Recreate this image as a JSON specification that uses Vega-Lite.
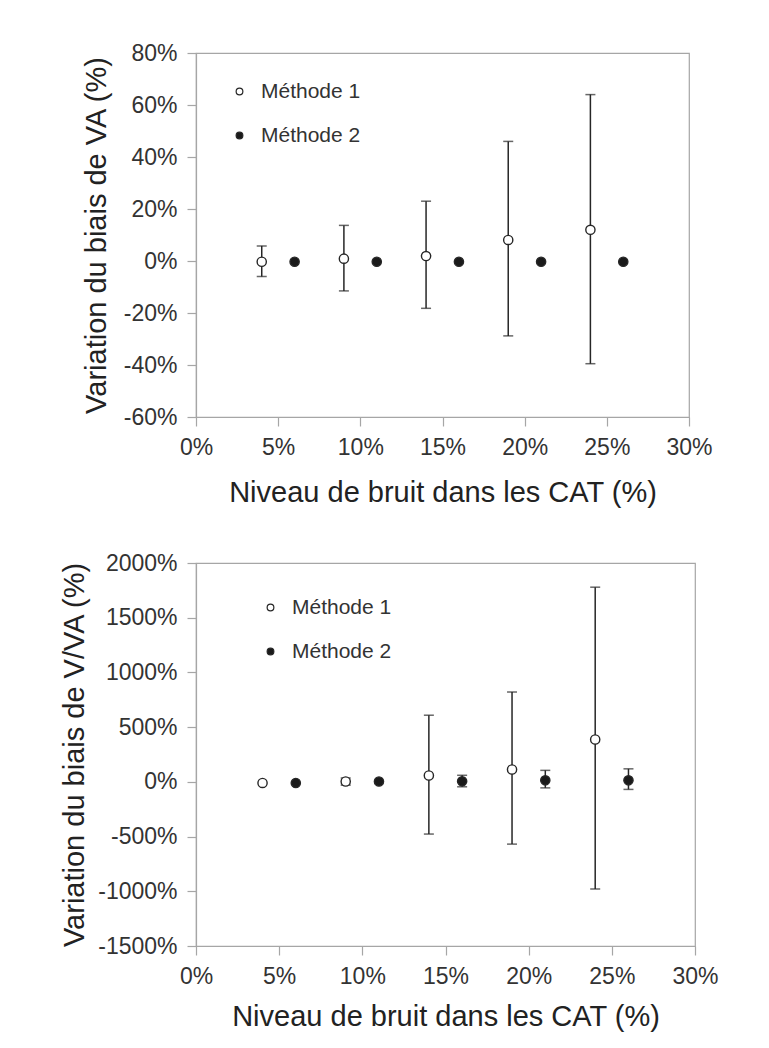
{
  "$schema": "https://vega.github.io/schema/vega-lite/v6.json",
  "background": "white",
  "padding": {"left": 60, "top": 41, "right": 5, "bottom": 0},
  "spacing": 146,
  "bounds": "flush",
  "config": {
    "font": "Liberation Sans",
    "view": {"stroke": "#a6a6a6", "strokeWidth": 1.2},
    "axis": {
      "grid": false,
      "domainColor": "#a6a6a6",
      "domainWidth": 1.2,
      "tickColor": "#a6a6a6",
      "tickWidth": 1.2,
      "tickSize": 9,
      "labelFont": "Liberation Sans",
      "labelFontSize": 23,
      "labelColor": "#333333",
      "labelPadding": 10,
      "labelFlush": false,
      "titleFont": "Liberation Sans",
      "titleFontSize": 29,
      "titleFontWeight": "normal",
      "titleColor": "#222222"
    },
    "legend": {
      "orient": "none",
      "title": null,
      "padding": 0,
      "symbolType": "circle",
      "symbolSize": 45,
      "symbolStrokeColor": "#262626",
      "symbolStrokeWidth": 1.2,
      "labelFont": "Liberation Sans",
      "labelFontSize": 21,
      "labelColor": "#333333",
      "rowPadding": 22,
      "labelOffset": 11
    }
  },
  "resolve": {
    "scale": {"x": "independent", "y": "independent", "fill": "independent"},
    "legend": {"fill": "independent"}
  },
  "datasets": {
    "va": [
      {"methode": "Méthode 1", "x": 0.04, "y": -0.003, "lo": -0.06, "hi": 0.058},
      {"methode": "Méthode 1", "x": 0.09, "y": 0.009, "lo": -0.115, "hi": 0.137},
      {"methode": "Méthode 1", "x": 0.14, "y": 0.019, "lo": -0.182, "hi": 0.23},
      {"methode": "Méthode 1", "x": 0.19, "y": 0.081, "lo": -0.288, "hi": 0.46},
      {"methode": "Méthode 1", "x": 0.24, "y": 0.12, "lo": -0.395, "hi": 0.64},
      {"methode": "Méthode 2", "x": 0.06, "y": -0.003, "lo": null, "hi": null},
      {"methode": "Méthode 2", "x": 0.11, "y": -0.003, "lo": null, "hi": null},
      {"methode": "Méthode 2", "x": 0.16, "y": -0.003, "lo": null, "hi": null},
      {"methode": "Méthode 2", "x": 0.21, "y": -0.003, "lo": null, "hi": null},
      {"methode": "Méthode 2", "x": 0.26, "y": -0.003, "lo": null, "hi": null}
    ],
    "vva": [
      {"methode": "Méthode 1", "x": 0.04, "y": -0.1, "lo": null, "hi": null},
      {"methode": "Méthode 1", "x": 0.09, "y": 0.03, "lo": -0.3, "hi": 0.35},
      {"methode": "Méthode 1", "x": 0.14, "y": 0.58, "lo": -4.77, "hi": 6.09},
      {"methode": "Méthode 1", "x": 0.19, "y": 1.13, "lo": -5.69, "hi": 8.21},
      {"methode": "Méthode 1", "x": 0.24, "y": 3.87, "lo": -9.79, "hi": 17.79},
      {"methode": "Méthode 2", "x": 0.06, "y": -0.1, "lo": null, "hi": null},
      {"methode": "Méthode 2", "x": 0.11, "y": 0.03, "lo": null, "hi": null},
      {"methode": "Méthode 2", "x": 0.16, "y": 0.05, "lo": -0.45, "hi": 0.6},
      {"methode": "Méthode 2", "x": 0.21, "y": 0.14, "lo": -0.55, "hi": 1.05},
      {"methode": "Méthode 2", "x": 0.26, "y": 0.14, "lo": -0.69, "hi": 1.19}
    ]
  },
  "vconcat": [
    {
      "width": 493,
      "height": 364,
      "data": {"name": "va"},
      "layer": [
        {
          "transform": [{"filter": "isValid(datum.lo)"}],
          "mark": {"type": "rule", "color": "#262626", "strokeWidth": 1.5},
          "encoding": {
            "x": {"field": "x", "type": "quantitative", "scale": {"domain": [0, 0.3], "nice": false},
              "axis": {"values": [0, 0.05, 0.1, 0.15, 0.2, 0.25, 0.3], "labelExpr": "format(datum.value*100, '.0f') + '%'", "title": "Niveau de bruit dans les CAT (%)", "titlePadding": 19}},
            "y": {"field": "lo", "type": "quantitative", "scale": {"domain": [-0.6, 0.8], "nice": false, "zero": false},
              "axis": {"values": [-0.6, -0.4, -0.2, 0, 0.2, 0.4, 0.6, 0.8], "labelExpr": "(datum.value < -0.0001 ? '-' : '') + format(abs(datum.value)*100, '.0f') + '%'", "title": "Variation du biais de VA (%)", "titlePadding": 12}},
            "y2": {"field": "hi"}
          }
        },
        {
          "transform": [{"filter": "isValid(datum.lo)"}],
          "mark": {"type": "tick", "orient": "horizontal", "color": "#262626", "size": 10, "thickness": 1.5},
          "encoding": {
            "x": {"field": "x", "type": "quantitative"},
            "y": {"field": "lo", "type": "quantitative"}
          }
        },
        {
          "transform": [{"filter": "isValid(datum.hi)"}],
          "mark": {"type": "tick", "orient": "horizontal", "color": "#262626", "size": 10, "thickness": 1.5},
          "encoding": {
            "x": {"field": "x", "type": "quantitative"},
            "y": {"field": "hi", "type": "quantitative"}
          }
        },
        {
          "mark": {"type": "point", "shape": "circle", "filled": true, "size": 85, "stroke": "#262626", "strokeWidth": 1.4, "opacity": 1},
          "encoding": {
            "x": {"field": "x", "type": "quantitative"},
            "y": {"field": "y", "type": "quantitative"},
            "fill": {"field": "methode", "type": "nominal",
              "scale": {"domain": ["Méthode 1", "Méthode 2"], "range": ["#ffffff", "#1a1a1a"]},
              "legend": {"legendX": 33, "legendY": 28}}
          }
        }
      ]
    },
    {
      "width": 499,
      "height": 383,
      "data": {"name": "vva"},
      "layer": [
        {
          "transform": [{"filter": "isValid(datum.lo)"}],
          "mark": {"type": "rule", "color": "#262626", "strokeWidth": 1.5},
          "encoding": {
            "x": {"field": "x", "type": "quantitative", "scale": {"domain": [0, 0.3], "nice": false},
              "axis": {"values": [0, 0.05, 0.1, 0.15, 0.2, 0.25, 0.3], "labelExpr": "format(datum.value*100, '.0f') + '%'", "title": "Niveau de bruit dans les CAT (%)", "titlePadding": 14}},
            "y": {"field": "lo", "type": "quantitative", "scale": {"domain": [-15, 20], "nice": false, "zero": false},
              "axis": {"values": [-15, -10, -5, 0, 5, 10, 15, 20], "labelExpr": "(datum.value < -0.0001 ? '-' : '') + format(abs(datum.value)*100, '.0f') + '%'", "title": "Variation du biais de V/VA (%)", "titlePadding": 8}},
            "y2": {"field": "hi"}
          }
        },
        {
          "transform": [{"filter": "isValid(datum.lo)"}],
          "mark": {"type": "tick", "orient": "horizontal", "color": "#262626", "size": 10, "thickness": 1.5},
          "encoding": {
            "x": {"field": "x", "type": "quantitative"},
            "y": {"field": "lo", "type": "quantitative"}
          }
        },
        {
          "transform": [{"filter": "isValid(datum.hi)"}],
          "mark": {"type": "tick", "orient": "horizontal", "color": "#262626", "size": 10, "thickness": 1.5},
          "encoding": {
            "x": {"field": "x", "type": "quantitative"},
            "y": {"field": "hi", "type": "quantitative"}
          }
        },
        {
          "mark": {"type": "point", "shape": "circle", "filled": true, "size": 85, "stroke": "#262626", "strokeWidth": 1.4, "opacity": 1},
          "encoding": {
            "x": {"field": "x", "type": "quantitative"},
            "y": {"field": "y", "type": "quantitative"},
            "fill": {"field": "methode", "type": "nominal",
              "scale": {"domain": ["Méthode 1", "Méthode 2"], "range": ["#ffffff", "#1a1a1a"]},
              "legend": {"legendX": 64, "legendY": 34}}
          }
        }
      ]
    }
  ]
}
